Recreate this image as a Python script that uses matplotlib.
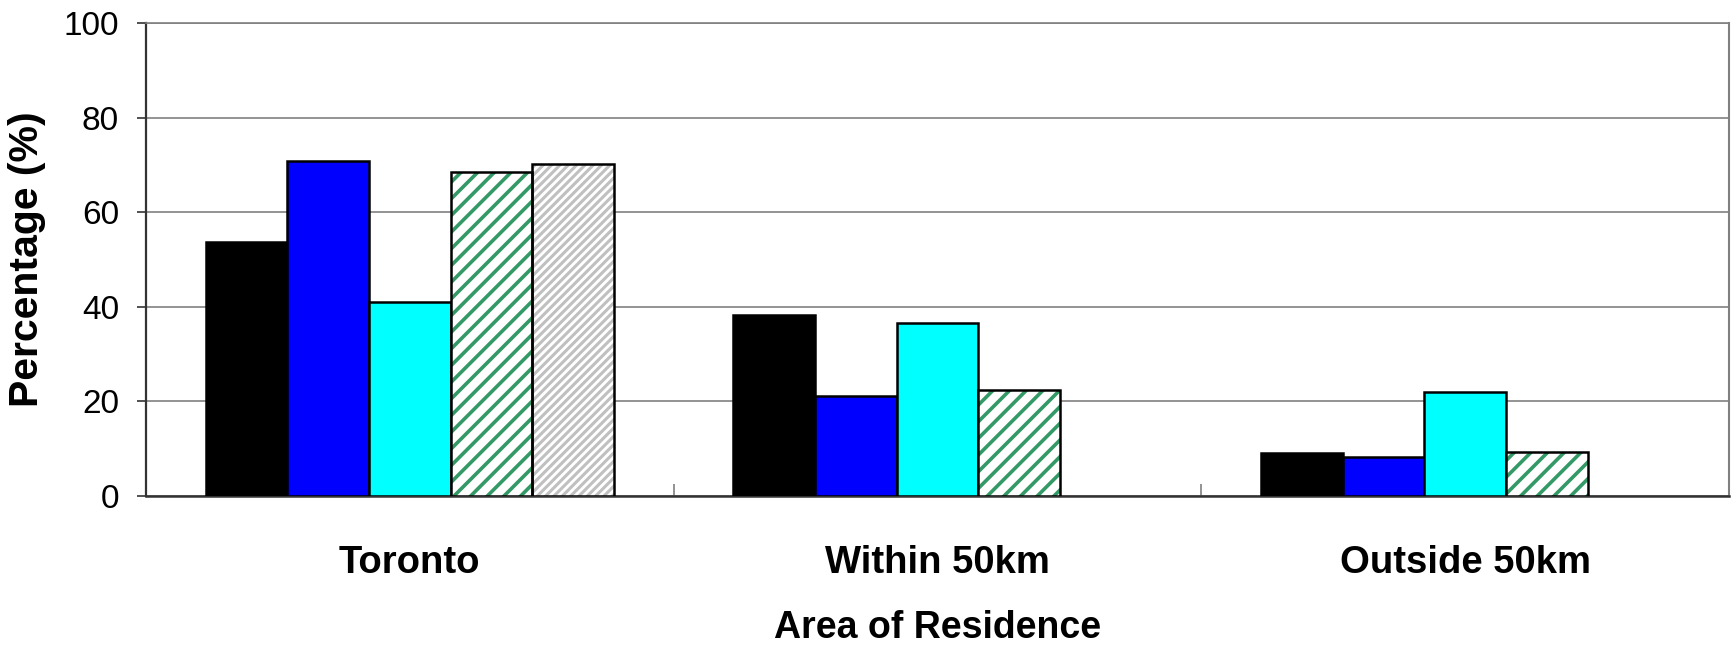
"""Bar chart of percentage by area of residence."""
import numpy as np
import matplotlib.pyplot as plt

plt.rcParams['font.family'] = ['Liberation Sans', 'DejaVu Sans']

# Data
categories = ["Toronto", "Within 50km", "Outside 50km"]
series_a = [53.6, 38.2, 9.0]
series_b = [70.9, 21.1, 8.2]
series_c = [41.0, 36.6, 22.0]
series_d = [68.4, 22.4, 9.3]
series_e = [70.2, np.nan, np.nan]

y_ticks = [0, 20, 40, 60, 80, 100]
x_label = "Area of Residence"
y_label = "Percentage (%)"

#-------------------------------------------------------------------------------
# Styles for each series: (face, hatch, hatch colour, hatch linewidth)
styles = [
    ("#000000", None, None, 0),
    ("#0000FF", None, None, 0),
    ("#00FFFF", None, None, 0),
    ("#FFFFFF", "//", "#339966", 2.6),
    ("#FFFFFF", "////", "#C0C0C0", 2.2),
]
all_series = [series_a, series_b, series_c, series_d, series_e]

fig = plt.figure(figsize=(17.32, 6.45), dpi=100)
ax = fig.add_axes([0.0843, 0.2310, 0.9140, 0.7333])

x = np.arange(len(categories))
width = 0.1547
n_series = len(all_series)

for i, (vals, (face, hatch, hcol, hlw)) in enumerate(zip(all_series, styles)):
    pos = x + (i - (n_series - 1) / 2) * width
    if hatch:
        # hatch layer first, then the black outline on top
        bars = ax.bar(pos, vals, width, color=face, edgecolor=hcol,
                      hatch=hatch, linewidth=0, zorder=3)
        for b in bars:
            if hasattr(b, "set_hatch_linewidth"):
                b.set_hatch_linewidth(hlw)
        ax.bar(pos, vals, width, color="none", edgecolor="black",
               linewidth=1.8, zorder=4)
    else:
        ax.bar(pos, vals, width, color=face, edgecolor="black",
               linewidth=1.8, zorder=3)

ax.set_xlim(-0.5, len(categories) - 0.5)
ax.set_ylim(0, 100)

# Axes frame: dark left/bottom, gray right/top
ax.spines['left'].set_color("#333333")
ax.spines['bottom'].set_color("#333333")
ax.spines['left'].set_linewidth(1.6)
ax.spines['bottom'].set_linewidth(1.8)
ax.spines['right'].set_color("#808080")
ax.spines['right'].set_linewidth(1.5)
ax.spines['top'].set_color("#808080")
ax.spines['top'].set_linewidth(1.2)

ax.set_yticks(y_ticks)
ax.tick_params(axis='y', direction='out', length=6.5, width=1.2,
               color="#333333", labelsize=24, pad=13)
ax.yaxis.grid(True, color="#808080", linewidth=1.2, zorder=0)
ax.set_axisbelow(True)

ax.set_xticks(x)
ax.set_xticklabels(categories, fontsize=27.5, fontweight='bold')
ax.tick_params(axis='x', which='major', length=0, pad=35)
ax.set_xticks(np.arange(len(categories) + 1) - 0.5, minor=True)
ax.tick_params(axis='x', which='minor', direction='in', length=8.6,
               width=1.2, color="#808080")

ax.set_xlabel(x_label, fontsize=27, fontweight='bold')
ax.xaxis.set_label_coords(0.5, -0.24)
ax.set_ylabel(y_label, fontsize=29.5, fontweight='bold')
ax.yaxis.set_label_coords(-0.063, 0.5)

fig.savefig("out.png", dpi=100)
